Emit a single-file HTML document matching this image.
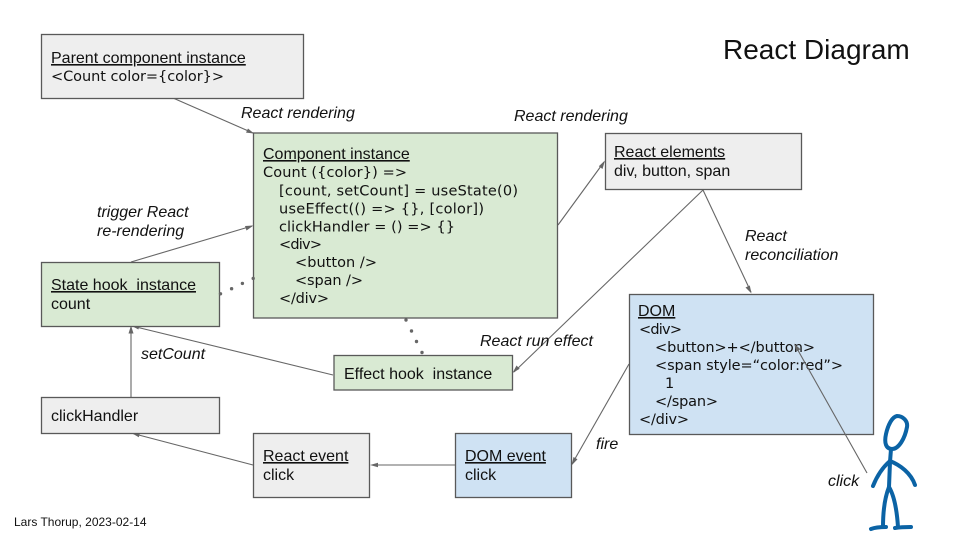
<!DOCTYPE html>
<html><head><meta charset="utf-8"><style>
html,body{margin:0;padding:0;background:#fff}
svg{display:block}
text{font-family:"Liberation Sans",sans-serif;font-size:16px;fill:#111;white-space:pre}
.m{font-family:"DejaVu Sans",sans-serif;font-size:14.5px}
.i{font-style:italic}
.u{text-decoration:underline}
.b{stroke:#595959;stroke-width:1.3}
.l{stroke:#666;stroke-width:1.1;fill:none}
.a{fill:#666;stroke:none}
.d{fill:#666}
</style></head><body>
<svg width="960" height="540" viewBox="0 0 960 540" xmlns="http://www.w3.org/2000/svg">
<rect width="960" height="540" fill="#fff"/>
<!-- connectors -->
<g>
<path class="l" d="M173 98L253 133"/><path class="a" d="M254 133.500L246 132.600L248 128.500Z"/>
<path class="l" d="M131 262L252 226"/><path class="a" d="M253.500 225.500L246.500 230.500L245 226Z"/>
<path class="l" d="M558 225L604 162"/><path class="a" d="M605 160.500L602.500 169L598.800 166.200Z"/>
<path class="l" d="M703 190L751 292"/><path class="a" d="M751.500 293.500L745.500 287.500L749.800 285.500Z"/>
<path class="l" d="M703 190L514 372"/><path class="a" d="M512.500 373L516.500 365.500L519.700 368.800Z"/>
<path class="l" d="M333 375L132 326"/><path class="a" d="M131 325.500L139.500 325L138.400 329.500Z"/>
<path class="l" d="M131 397V327"/><path class="a" d="M131 325.500L133.500 333.500H128.500Z"/>
<path class="l" d="M253 465L133 433.500"/><path class="a" d="M131.500 433L140 432.700L138.800 437.200Z"/>
<path class="l" d="M455 465H372"/><path class="a" d="M370 465L378 462.700V467.300Z"/>
<path class="l" d="M629 364L572 464"/><path class="a" d="M571.500 465.500L573.500 457L577.500 459.300Z"/>
</g>
<!-- boxes -->
<rect class="b" x="41.500" y="34.500" width="262" height="64" fill="#eeeeee"/>
<rect class="b" x="253.500" y="133" width="304" height="185" fill="#d9ead3"/>
<rect class="b" x="41.500" y="262.500" width="178" height="64" fill="#d9ead3"/>
<rect class="b" x="605.500" y="133.500" width="196" height="56" fill="#eeeeee"/>
<rect class="b" x="629.500" y="294.500" width="244" height="140" fill="#cfe2f3"/>
<rect class="b" x="334" y="355.500" width="178.500" height="34.500" fill="#d9ead3"/>
<rect class="b" x="41.500" y="397.500" width="178" height="36" fill="#eeeeee"/>
<rect class="b" x="253.500" y="433.500" width="116" height="64" fill="#eeeeee"/>
<rect class="b" x="455.500" y="433.500" width="116" height="64" fill="#cfe2f3"/>
<!-- dots -->
<g class="d">
<circle cx="220.500" cy="293.800" r="1.700"/><circle cx="231.600" cy="288.700" r="1.700"/><circle cx="242.400" cy="283.400" r="1.700"/><circle cx="253.200" cy="278.400" r="1.700"/>
<circle cx="406" cy="320" r="1.700"/><circle cx="411.500" cy="331" r="1.700"/><circle cx="416.500" cy="341.500" r="1.700"/><circle cx="422" cy="352.500" r="1.700"/>
</g>
<!-- box text -->
<text x="51" y="63" class="u">Parent component instance</text>
<text x="51" y="81" class="m" textLength="173" lengthAdjust="spacing">&lt;Count color={color}&gt;</text>
<text x="263" y="159" class="u">Component instance</text>
<text x="263" y="177" class="m" textLength="144" lengthAdjust="spacing">Count ({color}) =&gt;</text>
<text x="279" y="195.500" class="m" textLength="239" lengthAdjust="spacing">[count, setCount] = useState(0)</text>
<text x="279" y="213.500" class="m" textLength="205" lengthAdjust="spacing">useEffect(() =&gt; {}, [color])</text>
<text x="279" y="231.500" class="m" textLength="176" lengthAdjust="spacing">clickHandler = () =&gt; {}</text>
<text x="279" y="249" class="m" textLength="43" lengthAdjust="spacing">&lt;div&gt;</text>
<text x="295" y="267" class="m" textLength="82" lengthAdjust="spacing">&lt;button /&gt;</text>
<text x="295" y="285" class="m" textLength="68" lengthAdjust="spacing">&lt;span /&gt;</text>
<text x="279" y="303" class="m" textLength="50" lengthAdjust="spacing">&lt;/div&gt;</text>
<text x="51" y="290" class="u">State hook  instance</text>
<text x="51" y="309">count</text>
<text x="614" y="157" class="u">React elements</text>
<text x="614" y="176">div, button, span</text>
<text x="638" y="316" class="u">DOM</text>
<text x="639" y="334" class="m" textLength="43" lengthAdjust="spacing">&lt;div&gt;</text>
<text x="655" y="352" class="m" textLength="160" lengthAdjust="spacing">&lt;button&gt;+&lt;/button&gt;</text>
<text x="655" y="370" class="m" textLength="188" lengthAdjust="spacing">&lt;span style=“color:red”&gt;</text>
<text x="665" y="388" class="m">1</text>
<text x="655" y="406" class="m" textLength="63" lengthAdjust="spacing">&lt;/span&gt;</text>
<text x="639" y="424" class="m" textLength="50" lengthAdjust="spacing">&lt;/div&gt;</text>
<text x="344" y="379">Effect hook  instance</text>
<text x="51" y="421">clickHandler</text>
<text x="263" y="461" class="u">React event</text>
<text x="263" y="480">click</text>
<text x="465" y="461" class="u">DOM event</text>
<text x="465" y="480">click</text>
<!-- click line over DOM -->
<path class="l" d="M867 473L795 345"/><path class="a" d="M794 343.500L800.500 349.200L796.500 351.500Z"/>
<!-- edge labels -->
<text x="241" y="118" class="i">React rendering</text>
<text x="514" y="121" class="i">React rendering</text>
<text x="97" y="217" class="i">trigger React</text>
<text x="97" y="236" class="i">re-rendering</text>
<text x="141" y="359" class="i">setCount</text>
<text x="745" y="241" class="i">React</text>
<text x="745" y="260" class="i">reconciliation</text>
<text x="480" y="346" class="i">React run effect</text>
<text x="596" y="449" class="i">fire</text>
<text x="828" y="486" class="i">click</text>
<text x="723" y="59" style="font-size:28px">React Diagram</text>
<text x="14" y="526" style="font-size:12px">Lars Thorup, 2023-02-14</text>
<!-- stick figure -->
<g fill="none" stroke="#0b63a5" stroke-width="4" stroke-linecap="round" stroke-linejoin="round">
<path d="M897 416C903 416 908 421 907 427C905 438 899 449 892 449C886 449 884 443 886 434C888 425 892 417 897 416Z"/>
<path d="M891 449L890 462L889 487"/>
<path d="M890 461C883 467 877 476 873 486"/>
<path d="M890 461C900 465 911 473 915 485"/>
<path d="M889 487C885 497 883 512 883 527"/>
<path d="M889 487C895 497 897 512 898 527"/>
<path d="M871 529C876 527 881 527 886 527"/>
<path d="M895 528C901 527 906 527 911 527"/>
</g>
</svg>
</body></html>
